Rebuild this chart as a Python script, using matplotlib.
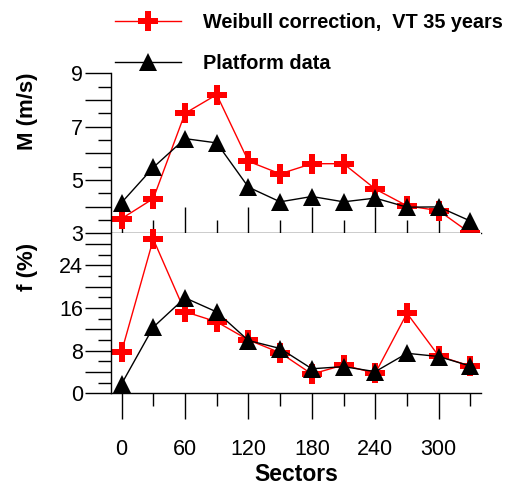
import numpy as np
import matplotlib
matplotlib.use("Agg")
import matplotlib.pyplot as plt
from matplotlib.ticker import FixedLocator, FuncFormatter

plt.rcParams['font.family'] = ['Liberation Sans', 'DejaVu Sans']

sectors = [0, 30, 60, 90, 120, 150, 180, 210, 240, 270, 300, 330]

# mean wind speed per sector (m/s)
m_weibull = [3.55, 4.3, 7.5, 8.2, 5.7, 5.23, 5.61, 5.61, 4.66, 4.03, 3.85, 3.0]
m_platform = [4.15, 5.47, 6.55, 6.39, 4.73, 4.18, 4.38, 4.18, 4.32, 3.98, 3.99, 3.46]

# frequency per sector (%)
f_weibull = [7.8, 28.9, 15.3, 13.4, 10.0, 7.6, 3.6, 5.3, 3.75, 15.0, 7.0, 5.1]
f_platform = [1.75, 12.4, 17.9, 15.25, 9.9, 8.4, 4.6, 5.0, 4.06, 7.5, 6.9, 5.1]

m_labels = [3, 5, 7, 9]
f_labels = [0, 8, 16, 24]
x_labels = [0, 60, 120, 180, 240, 300]

W, H = 513, 490
fig = plt.figure(figsize=(W / 100, H / 100), dpi=100)
left, width = 111 / W, 370 / W
ax1 = fig.add_axes([left, 1 - 233.3 / H, width, 160 / H])
ax2 = fig.add_axes([left, 1 - 393.3 / H, width, 160 / H])

red_kw = dict(color='red', lw=1, marker='P', markersize=15, mew=0, clip_on=False)
blk_kw = dict(color='black', lw=1, marker='^', markersize=13, mew=0, clip_on=False)

l1, = ax1.plot(sectors, m_weibull, label='Weibull correction,  VT 35 years', **red_kw)
l2, = ax1.plot(sectors, m_platform, label='Platform data', **blk_kw)
ax2.plot(sectors, f_weibull, **red_kw)
ax2.plot(sectors, f_platform, **blk_kw)

long_t, short_t = 19, 9.5
for ax in (ax1, ax2):
    ax.set_xlim(-10, 340)
    ax.spines['top'].set_visible(False)
    ax.spines['right'].set_visible(False)
    for s in ('left', 'bottom'):
        ax.spines[s].set_linewidth(1)
    ax.xaxis.set_major_locator(FixedLocator(x_labels))
    ax.xaxis.set_minor_locator(FixedLocator([30, 90, 150, 210, 270, 330]))
    ax.tick_params(which='major', length=long_t, width=1, labelsize=15.5)
    ax.tick_params(which='minor', length=short_t, width=1)

ax1.set_ylim(3, 9)
ax1.yaxis.set_major_locator(FixedLocator(np.arange(3, 10, 1)))
ax1.yaxis.set_minor_locator(FixedLocator(np.arange(3.5, 9, 1)))
ax1.yaxis.set_major_formatter(FuncFormatter(lambda v, p: f"{v:.0f}" if int(round(v)) in m_labels else ""))
ax1.tick_params(axis='x', which='both', direction='in', labelbottom=False)
ax1.tick_params(axis='y', pad=1)

ax2.set_ylim(0, 30)
ax2.yaxis.set_major_locator(FixedLocator(np.arange(0, 30, 4)))
ax2.yaxis.set_minor_locator(FixedLocator(np.arange(2, 30, 4)))
ax2.yaxis.set_major_formatter(FuncFormatter(lambda v, p: f"{v:.0f}" if int(round(v)) in f_labels else ""))
ax2.tick_params(axis='x', which='both', direction='out')
ax2.tick_params(axis='x', pad=14)
ax2.tick_params(axis='y', pad=1)

ax2.set_xlabel('Sectors', fontsize=16.5, fontweight='bold', labelpad=2)
fig.text(28 / W, 1 - 111 / H, 'M (m/s)', rotation=90, ha='center', va='center',
         fontsize=16, fontweight='bold')
fig.text(28 / W, 1 - 267 / H, 'f (%)', rotation=90, ha='center', va='center',
         fontsize=16, fontweight='bold')

fig.legend(handles=[l1, l2], loc='upper left', bbox_to_anchor=(115 / W, 1 - 13 / H),
           frameon=False, prop=dict(weight='bold', size=14.3), numpoints=1,
           handlelength=3.3, handletextpad=1.15, labelspacing=1.1,
           borderpad=0, borderaxespad=0)

fig.savefig('out.png', dpi=100)
